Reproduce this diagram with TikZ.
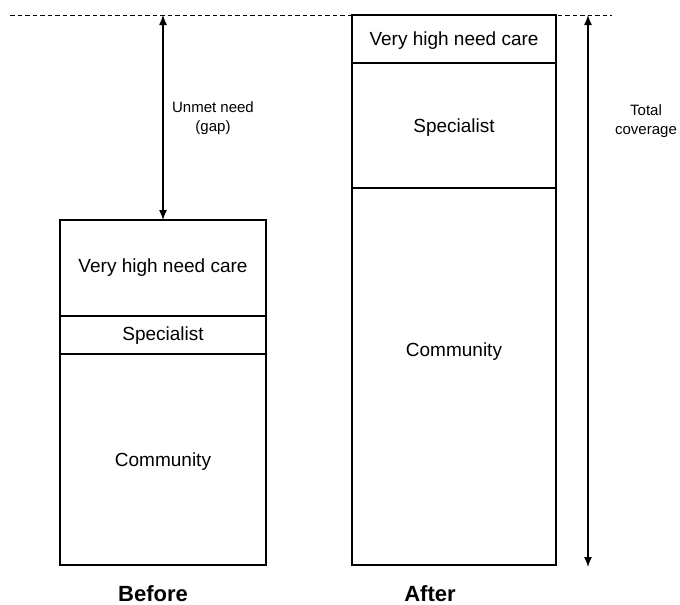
\documentclass[tikz,border=0pt]{standalone}
\usepackage{fontspec}
\setmainfont{Liberation Sans}
\usetikzlibrary{arrows.meta}
\begin{document}
\begin{tikzpicture}[x=1pt,y=-1pt,
  boxline/.style={line width=2.2pt},
  seg/.style={font=\fontsize{19}{22}\selectfont},
  lbl/.style={font=\fontsize{15}{18.5}\selectfont,align=center},
  captiontext/.style={font=\fontsize{22}{26}\selectfont\bfseries,inner sep=0pt},
  dim/.style={line width=1.3pt,{Latex[length=10pt,width=8pt]}-{Latex[length=10pt,width=8pt]}}]
\useasboundingbox (0,0) rectangle (680,605);
% dashed reference line
\coordinate (dl) at (10,15);
\coordinate (dr) at (612,15);
\draw[line width=0.9pt,dash pattern=on 4.5pt off 3pt] (dl) -- (dr);
% Before box
\draw[boxline] (60,220) rectangle (266,565);
\draw[boxline] (60,316) -- (266,316);
\draw[boxline] (60,354) -- (266,354);
\node[seg] (b1) at (163,268) {Very high need care};
\node[seg] (b2) at (163,336) {Specialist};
\node[seg] (b3) at (163,462) {Community};
% After box
\draw[boxline] (352,15) rectangle (556,565);
\draw[boxline] (352,63) -- (556,63);
\draw[boxline] (352,188) -- (556,188);
\node[seg] (a1) at (454,41) {Very high need care};
\node[seg] (a2) at (454,128) {Specialist};
\node[seg] (a3) at (454,352) {Community};
% gap arrow
\coordinate (gt) at (163,15);
\coordinate (gb) at (163,220);
\draw[dim] (gt) -- (gb);
\node[lbl] (gap) at (213,118) {Unmet need\\(gap)};
% total arrow
\coordinate (tt) at (588,15);
\coordinate (tb) at (588,567);
\draw[dim] (tt) -- (tb);
\node[lbl] (tot) at (646,121) {Total\\coverage};
% captions
\node[captiontext] (before) at (153,594) {Before};
\node[captiontext] (after) at (430,594) {After};
\end{tikzpicture}
\end{document}
